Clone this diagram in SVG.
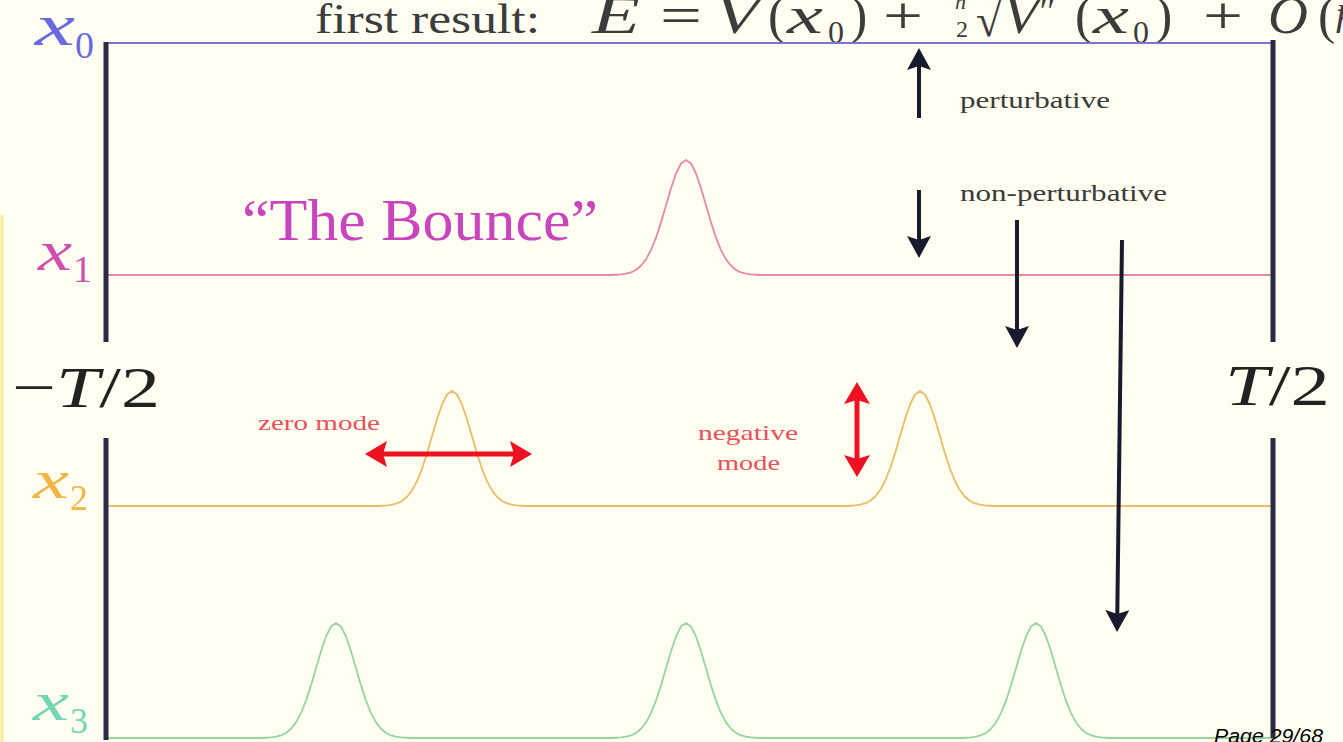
<svg xmlns="http://www.w3.org/2000/svg" width="1343" height="742" viewBox="0 0 1343 742">
<style>
  .curve{fill:none;stroke-width:1.8;stroke-linejoin:round}
  .bar{stroke:#2b2b45;stroke-width:5}
  .blk{stroke:#1a1a2e;stroke-width:4;fill:none}
  .red{stroke:#ee1122;stroke-width:5;fill:none}
</style>
<defs>
  <marker id="ahK" viewBox="0 0 22 24" refX="10" refY="12" markerWidth="22" markerHeight="24" markerUnits="userSpaceOnUse" orient="auto-start-reverse">
    <path d="M0,0 L22,12 L0,24 L4,12 Z" fill="#1a1a2e"/>
  </marker>
  <marker id="ahR" viewBox="0 0 22 26" refX="10" refY="13" markerWidth="22" markerHeight="26" markerUnits="userSpaceOnUse" orient="auto-start-reverse">
    <path d="M0,0 L22,13 L0,26 L4,13 Z" fill="#ee1122"/>
  </marker>
</defs>
<rect x="0" y="0" width="1343" height="742" fill="#fffef0"/>
<line x1="2" y1="215" x2="2" y2="742" stroke="#f5eb9a" stroke-width="3"/>

<g id="formula" font-family="Liberation Serif, serif" fill="#3c3c3c">
  <text x="315" y="33" font-size="42" textLength="225" lengthAdjust="spacingAndGlyphs">first result:</text>
  <text x="592" y="33" font-size="52" font-style="italic" textLength="48" lengthAdjust="spacingAndGlyphs">E</text>
  <text x="660" y="33" font-size="52" textLength="42" lengthAdjust="spacingAndGlyphs">=</text>
  <text x="715" y="33" font-size="52" font-style="italic" textLength="44" lengthAdjust="spacingAndGlyphs">V</text>
  <text x="768" y="33" font-size="52">(</text>
  <text x="787" y="33" font-size="52" font-style="italic" textLength="36" lengthAdjust="spacingAndGlyphs">x</text>
  <text x="828" y="43" font-size="32">0</text>
  <text x="850" y="33" font-size="52">)</text>
  <text x="883" y="33" font-size="52" textLength="40" lengthAdjust="spacingAndGlyphs">+</text>
  <text x="955" y="9" font-size="22" font-style="italic">ħ</text>
  <text x="956" y="37" font-size="24">2</text>
  <text x="976" y="36" font-size="46">√</text>
  <text x="1003" y="33" font-size="52" font-style="italic" textLength="36" lengthAdjust="spacingAndGlyphs">V</text>
  <text x="1040" y="22" font-size="34">′′</text>
  <text x="1075" y="33" font-size="52">(</text>
  <text x="1093" y="33" font-size="52" font-style="italic" textLength="36" lengthAdjust="spacingAndGlyphs">x</text>
  <text x="1133" y="43" font-size="32">0</text>
  <text x="1155" y="33" font-size="52">)</text>
  <text x="1203" y="33" font-size="52" textLength="40" lengthAdjust="spacingAndGlyphs">+</text>
  <text x="1268" y="33" font-size="52" font-style="italic" textLength="40" lengthAdjust="spacingAndGlyphs">O</text>
  <text x="1318" y="33" font-size="52">(</text>
  <text x="1335" y="33" font-size="40" font-style="italic">ħ</text>
</g>

<g id="x0-path" font-family="Liberation Serif, serif" fill="#6a6ae0">
  <line x1="106" y1="43" x2="1273" y2="43" stroke="#7c72d8" stroke-width="2.2"/>
  <text font-style="italic" x="35" y="45" font-size="60" textLength="40" lengthAdjust="spacingAndGlyphs">x</text>
  <text x="75" y="58" font-size="38">0</text>
</g>

<g id="x1-path" font-family="Liberation Serif, serif" fill="#d050b0">
  <path class="curve" stroke="#e48aa8" d="M106,275 H611 l5,-0.25 5,-0.35 5,-0.7 5,-1.3 5,-2.4 5,-4.2 5,-6.4 5,-9.3 5,-12.4 5,-15.3 5,-17.1 5,-17.1 5,-14.7 5,-10 5,-3.5 5,3.5 5,10 5,14.7 5,17.1 5,17.1 5,15.3 5,12.4 5,9.3 5,6.4 5,4.2 5,2.4 5,1.3 5,0.7 5,0.35 5,0.25 H1273"/>
  <text font-style="italic" x="38" y="270" font-size="58" textLength="34" lengthAdjust="spacingAndGlyphs">x</text>
  <text x="73" y="282" font-size="38">1</text>
</g>

<g id="x2-path" font-family="Liberation Serif, serif" fill="#f2b548">
  <path class="curve" stroke="#e8be6a" d="M106,506 H377 l5,-0.25 5,-0.35 5,-0.7 5,-1.3 5,-2.4 5,-4.2 5,-6.4 5,-9.3 5,-12.4 5,-15.3 5,-17.1 5,-17.1 5,-14.7 5,-10 5,-3.5 5,3.5 5,10 5,14.7 5,17.1 5,17.1 5,15.3 5,12.4 5,9.3 5,6.4 5,4.2 5,2.4 5,1.3 5,0.7 5,0.35 5,0.25 H845 l5,-0.25 5,-0.35 5,-0.7 5,-1.3 5,-2.4 5,-4.2 5,-6.4 5,-9.3 5,-12.4 5,-15.3 5,-17.1 5,-17.1 5,-14.7 5,-10 5,-3.5 5,3.5 5,10 5,14.7 5,17.1 5,17.1 5,15.3 5,12.4 5,9.3 5,6.4 5,4.2 5,2.4 5,1.3 5,0.7 5,0.35 5,0.25 H1273"/>
  <text font-style="italic" x="33" y="498" font-size="54" textLength="36" lengthAdjust="spacingAndGlyphs">x</text>
  <text x="70" y="510" font-size="36">2</text>
</g>

<g id="x3-path" font-family="Liberation Serif, serif" fill="#72d6b2">
  <path class="curve" stroke="#98d4a0" d="M106,738 H261 l5,-0.25 5,-0.35 5,-0.7 5,-1.3 5,-2.4 5,-4.2 5,-6.4 5,-9.3 5,-12.4 5,-15.3 5,-17.1 5,-17.1 5,-14.7 5,-10 5,-3.5 5,3.5 5,10 5,14.7 5,17.1 5,17.1 5,15.3 5,12.4 5,9.3 5,6.4 5,4.2 5,2.4 5,1.3 5,0.7 5,0.35 5,0.25 H611 l5,-0.25 5,-0.35 5,-0.7 5,-1.3 5,-2.4 5,-4.2 5,-6.4 5,-9.3 5,-12.4 5,-15.3 5,-17.1 5,-17.1 5,-14.7 5,-10 5,-3.5 5,3.5 5,10 5,14.7 5,17.1 5,17.1 5,15.3 5,12.4 5,9.3 5,6.4 5,4.2 5,2.4 5,1.3 5,0.7 5,0.35 5,0.25 H961 l5,-0.25 5,-0.35 5,-0.7 5,-1.3 5,-2.4 5,-4.2 5,-6.4 5,-9.3 5,-12.4 5,-15.3 5,-17.1 5,-17.1 5,-14.7 5,-10 5,-3.5 5,3.5 5,10 5,14.7 5,17.1 5,17.1 5,15.3 5,12.4 5,9.3 5,6.4 5,4.2 5,2.4 5,1.3 5,0.7 5,0.35 5,0.25 H1273"/>
  <text font-style="italic" x="33" y="720" font-size="54" textLength="36" lengthAdjust="spacingAndGlyphs">x</text>
  <text x="70" y="733" font-size="36">3</text>
</g>

<g id="time-bars">
  <line class="bar" x1="106" y1="42" x2="106" y2="342"/>
  <line class="bar" x1="106" y1="438" x2="106" y2="740"/>
  <line class="bar" x1="1273" y1="40" x2="1273" y2="342"/>
  <line class="bar" x1="1273" y1="438" x2="1273" y2="738"/>
</g>

<g id="minus-T-half" font-family="Liberation Serif, serif" fill="#222">
  <text x="12" y="407" font-size="58" textLength="148" lengthAdjust="spacingAndGlyphs">−<tspan font-style="italic">T</tspan>/2</text>
</g>
<g id="T-half" font-family="Liberation Serif, serif" fill="#222">
  <text x="1225" y="405" font-size="58" textLength="105" lengthAdjust="spacingAndGlyphs"><tspan font-style="italic">T</tspan>/2</text>
</g>

<g id="bounce-label" font-family="Liberation Serif, serif">
  <text x="242" y="240" font-size="60" fill="#c945bd" textLength="356" lengthAdjust="spacingAndGlyphs">“The Bounce”</text>
</g>

<g id="labels" font-family="Liberation Serif, serif">
  <text x="960" y="108" font-size="23" fill="#3a3a3a" textLength="150" lengthAdjust="spacingAndGlyphs">perturbative</text>
  <text x="960" y="201" font-size="23" fill="#3a3a3a" textLength="207" lengthAdjust="spacingAndGlyphs">non-perturbative</text>
  <text x="258" y="430" font-size="21" fill="#e8505a" textLength="122" lengthAdjust="spacingAndGlyphs">zero mode</text>
  <text x="698" y="440" font-size="21" fill="#e8505a" textLength="100" lengthAdjust="spacingAndGlyphs">negative</text>
  <text x="717" y="470" font-size="21" fill="#e8505a" textLength="63" lengthAdjust="spacingAndGlyphs">mode</text>
</g>

<g id="connectors">
  <line class="blk" x1="919" y1="118" x2="919" y2="60" marker-end="url(#ahK)"/>
  <line class="blk" x1="919" y1="190" x2="919" y2="246" marker-end="url(#ahK)"/>
  <line class="blk" x1="1017" y1="220" x2="1017" y2="336" marker-end="url(#ahK)"/>
  <line class="blk" x1="1122" y1="240" x2="1117.2" y2="620" marker-end="url(#ahK)"/>
  <line class="red" x1="377" y1="454" x2="520" y2="454" marker-start="url(#ahR)" marker-end="url(#ahR)"/>
  <line class="red" x1="857" y1="394" x2="857" y2="465" marker-start="url(#ahR)" marker-end="url(#ahR)"/>
</g>

<g id="page-number">
  <text x="1214" y="743" font-family="Liberation Sans, Arial, sans-serif" font-style="italic" font-size="20" fill="#000" textLength="109" lengthAdjust="spacingAndGlyphs">Page 29/68</text>
</g>
</svg>
